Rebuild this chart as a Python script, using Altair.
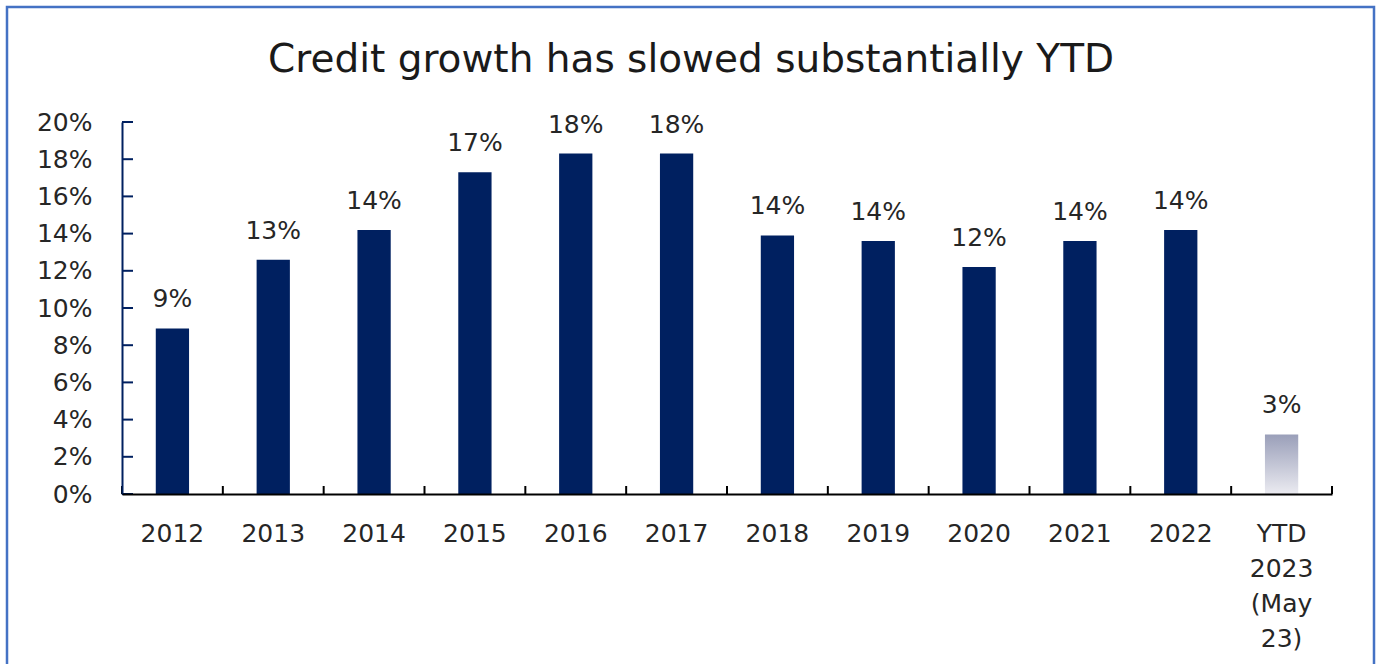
import altair as alt
import pandas as pd

years = ["2012", "2013", "2014", "2015", "2016", "2017", "2018", "2019", "2020",
         "2021", "2022", "YTD 2023 (May 23)"]
growth_pct = [8.9, 12.6, 14.2, 17.3, 18.3, 18.3, 13.9, 13.6, 12.2, 13.6, 14.2, 3.2]
y_ticks_pct = [0, 2, 4, 6, 8, 10, 12, 14, 16, 18, 20]
title_text = "Credit growth has slowed substantially YTD"

df = pd.DataFrame({"year": years, "growth": [v / 100 for v in growth_pct]})
ytd_label = years[-1]
ytick_df = pd.DataFrame({"growth": [v / 100 for v in y_ticks_pct]})
xtick_df = pd.DataFrame({"b": list(range(len(years) + 1))})

FONT = "DejaVu Sans"
TXT = "#262626"
NAVY = "#002060"
FS = 25

W, H = 1210, 372

xscale = alt.Scale(domain=years, paddingInner=0.67, paddingOuter=0.335)
yscale = alt.Scale(domain=[0, 0.2], nice=False)

base = alt.Chart(df)

xaxis = alt.Axis(title=None, labelAngle=0, ticks=False, tickSize=0, grid=False,
                 domainColor="black", domainWidth=2, labelPadding=27,
                 labelFont=FONT, labelFontSize=FS, labelColor=TXT,
                 labelExpr="split(datum.label, ' ')", labelLineHeight=35,
                 labelBaseline="top", zindex=2)
yaxis = alt.Axis(title=None, values=[v / 100 for v in y_ticks_pct], format=".0%",
                 ticks=False, tickSize=0, grid=False, domainColor=NAVY,
                 domainWidth=2, labelPadding=30, labelFont=FONT,
                 labelFontSize=FS, labelColor=TXT, zindex=1)

bars = base.transform_filter(alt.datum.year != ytd_label).mark_bar(color=NAVY).encode(
    x=alt.X("year:N", scale=xscale, sort=years, axis=xaxis),
    y=alt.Y("growth:Q", scale=yscale, axis=yaxis),
)

ytd_bar = base.transform_filter(alt.datum.year == ytd_label).mark_bar(
    color=alt.LinearGradient(
        gradient="linear",
        stops=[alt.GradientStop(offset=0, color="#9a9fb9"),
               alt.GradientStop(offset=1, color="#ebebf1")],
        x1=0, x2=0, y1=0, y2=1)
).encode(x=alt.X("year:N", scale=xscale, sort=years, axis=xaxis),
         y=alt.Y("growth:Q", scale=yscale, axis=yaxis))

labels = base.mark_text(font=FONT, fontSize=FS, color=TXT, baseline="alphabetic", dy=-21).encode(
    x=alt.X("year:N", scale=xscale, sort=years, axis=xaxis),
    y=alt.Y("growth:Q", scale=yscale, axis=yaxis),
    text=alt.Text("growth:Q", format=".0%"),
)

yticks = alt.Chart(ytick_df).mark_rule(color=NAVY, strokeWidth=2).encode(
    y=alt.Y("growth:Q", scale=yscale, axis=yaxis),
    x=alt.value(0), x2=alt.value(11),
)

main = alt.layer(bars, ytd_bar, labels, yticks)

xticks = alt.Chart(xtick_df).mark_rule(color="black", strokeWidth=2).encode(
    x=alt.X("b:Q", scale=alt.Scale(domain=[0, len(years)], nice=False, zero=False), axis=None),
    y=alt.value(H - 8), y2=alt.value(H),
)

frame = alt.Chart(alt.Data(values=[{"a": 1}])).mark_rect(
    fill=None, stroke="#4472C4", strokeWidth=2.5
).encode(x=alt.value(-115), x2=alt.value(1252), y=alt.value(-115), y2=alt.value(580))

title = alt.Chart(alt.Data(values=[{"t": title_text}])).mark_text(
    font=FONT, fontSize=39, color="#1a1a1a", align="center", baseline="alphabetic"
).encode(text="t:N", x=alt.value(569), y=alt.value(-50))

chart = alt.layer(main, xticks, frame, title).resolve_scale(x="independent").properties(
    width=W, height=H,
    view=alt.ViewBackground(stroke="transparent", strokeWidth=0),
    padding={"left": 122, "top": 122, "right": 47, "bottom": 170},
    autosize=alt.AutoSizeParams(type="none"),
).configure_view(stroke="transparent", strokeWidth=0).configure_axis(grid=False).configure(
    background="white")

chart.save("out.html", embed_options={"renderer": "svg", "actions": False})
